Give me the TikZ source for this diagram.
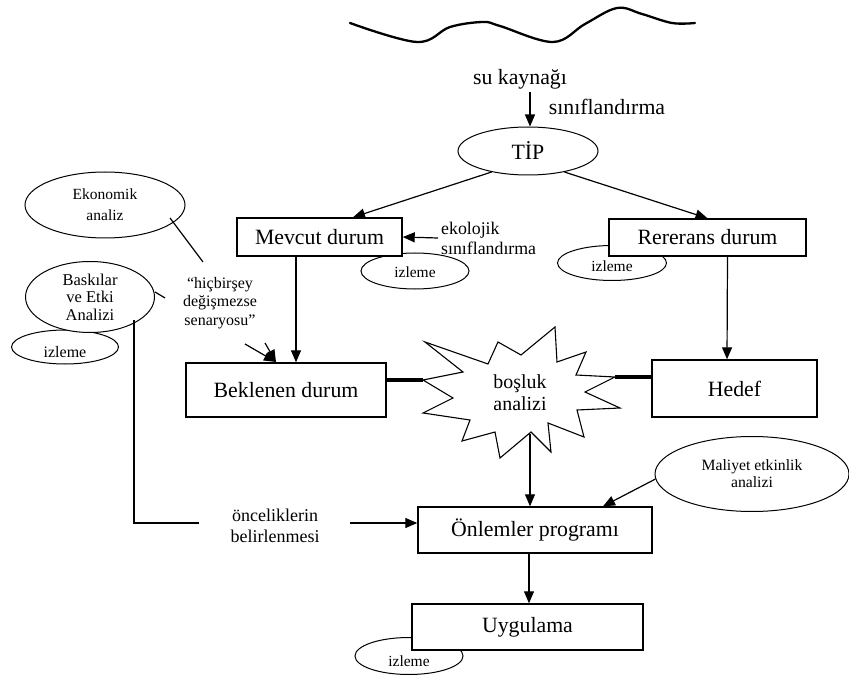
\documentclass[tikz,border=0pt]{standalone}
\usepackage{fontspec}
\setmainfont{Liberation Serif}
\usetikzlibrary{arrows.meta,shapes.geometric}
\begin{document}
\begin{tikzpicture}[x=1pt,y=-1pt,
  big/.style={font=\fontsize{21.8}{26}\selectfont},
  boxnode/.style={draw,line width=1.4pt,fill=white,inner sep=0pt,big},
  ell/.style={draw,ellipse,line width=1pt,fill=white,inner sep=0pt},
  small/.style={font=\fontsize{15.5}{21}\selectfont,align=center},
  arr/.style={line width=1.2pt,-{Triangle[length=12pt,width=10pt]}},
  ln/.style={line width=1.2pt},
  thick line/.style={line width=4pt}
]
\useasboundingbox (0,0) rectangle (849,679);

% wave
\draw[line width=2.3pt,line cap=round] plot[smooth,tension=0.6] coordinates
  {(350,23) (417,42) (450,27) (483,22) (500,26) (553,42) (585,24) (617,8) (642,14) (672,23) (695,23)};

% top labels
\node[big] (src) at (520,79) {su kaynağı};
\node[big] (cls) at (607,107) {sınıflandırma};

% TIP
\node[ell,minimum width=140pt,minimum height=48pt,big] (tip) at (528,151) {TİP};

% izleme ellipses (behind boxes)
\node[ell,minimum width=108pt,minimum height=36pt,small,text height=14pt,text depth=0pt] (iz1) at (415,271) {izleme};
\node[ell,minimum width=109pt,minimum height=35pt,small,text height=18pt,text depth=0pt] (iz2) at (612,263) {izleme};
\node[ell,minimum width=108pt,minimum height=37pt,small,text height=21pt,text depth=0pt] (iz4) at (409,656) {izleme};
\node[ell,minimum width=107pt,minimum height=34pt,font=\fontsize{16}{20}\selectfont,text height=21pt,text depth=0pt] (iz3) at (65,347) {izleme};

% boxes
\node[boxnode,minimum width=165pt,minimum height=38pt] (mev) at (319.5,237) {Mevcut durum};
\node[boxnode,minimum width=197pt,minimum height=37pt] (ref) at (707.5,237.5) {Rererans durum};
\node[boxnode,minimum width=200pt,minimum height=54pt] (bek) at (286,390) {Beklenen durum};
\node[boxnode,minimum width=165pt,minimum height=57pt] (hed) at (734.5,388.5) {Hedef};
\node[boxnode,minimum width=234pt,minimum height=46pt] (onl) at (535,530) {Önlemler programı};
\node[boxnode,minimum width=231pt,minimum height=46pt] (uyg) at (527.5,627) {Uygulama};

% left ellipses
\node[ell,minimum width=160pt,minimum height=66pt,small] (eko) at (105,205) {Ekonomik\\analiz};
\node[ell,minimum width=129pt,minimum height=71pt,align=center,font=\fontsize{16.5}{17.5}\selectfont] (bas) at (90,297) {Baskılar\\ve Etki\\Analizi};
\node[ell,minimum width=194pt,minimum height=75pt,align=center,font=\fontsize{15.7}{17}\selectfont] (mal) at (752,474) {Maliyet etkinlik\\analizi};

% texts
\node[align=center,font=\fontsize{16}{18.5}\selectfont] (hic) at (220,303) {“hiçbirşey\\değişmezse\\senaryosu”};
\node[anchor=west,align=left,inner sep=0pt,font=\fontsize{17.8}{20}\selectfont] (eco) at (441,238) {ekolojik\\sınıflandırma};
\node[align=center,font=\fontsize{18}{21}\selectfont] (onc) at (275,526) {önceliklerin\\belirlenmesi};

% star
\coordinate (sl) at (423,380);
\coordinate (sr) at (615,377);
\coordinate (sb) at (530,434);
\draw[line width=1.1pt,fill=white,line join=miter] (sl) -- (463,372) -- (425,342) -- (488,364) -- (498,342) -- (521,355)
  -- (555,327) -- (557,362) -- (586,352) -- (576,375) -- (sr) -- (585,392) -- (620,408) -- (577,410)
  -- (584,437) -- (548,423) -- (551,452) -- (531,432) -- (500,458) -- (495,432) -- (462,441)
  -- (470,420) -- (423,413) -- (453,398) -- cycle;
\node[align=center,font=\fontsize{19.9}{22}\selectfont] (gap) at (520,393) {boşluk\\analizi};

% connectors
\coordinate (mt) at (353,0);
\coordinate (st) at (530,0);
\draw[arr] (st |- src.south) -- (st |- tip.north);
\draw[arr] (tip.210) -- (mt |- mev.north);
\draw[arr] (tip.330) -- (ref.north);
\draw[arr] ([xshift=-23.5pt]mev.south) -- ([xshift=10pt]bek.north);
\draw[arr] ([xshift=20pt]ref.south) -- ([xshift=-7.5pt]hed.north);
\draw[arr] ([xshift=-3pt]eco.west) -- (mev.east);
\draw[thick line] (sl -| bek.east) -- (sl);
\draw[thick line] (sr) -- (sr -| hed.west);
\draw[arr] (sb) -- (sb |- onl.north);
\draw[arr] (mal.183) -- ([xshift=68pt]onl.north);
\draw[arr] ([xshift=-6pt]onl.south) -- ([xshift=1.5pt]uyg.north);

% hicbirsey links
\coordinate (e1) at (170,218);
\coordinate (e2) at (203,262);
\draw[ln] (e1) -- (e2);
\coordinate (b1) at (155,292);
\coordinate (b2) at (165,298);
\draw[ln] (b1) -- (b2);
\coordinate (h1) at (245,344);
\coordinate (h2) at (265,343);
\coordinate (ht) at (276,362);
\draw[arr] (h1) -- (ht);
\draw[arr] (h2) -- (ht);

% priorities line
\coordinate (p1) at (134,320);
\coordinate (p2) at (134,523);
\coordinate (p3) at (199,523);
\coordinate (p4) at (350,523);
\draw[ln] (p1) -- (p2) -- (p3);
\draw[arr] (p4) -- (p4 -| onl.west);
\end{tikzpicture}
\end{document}
